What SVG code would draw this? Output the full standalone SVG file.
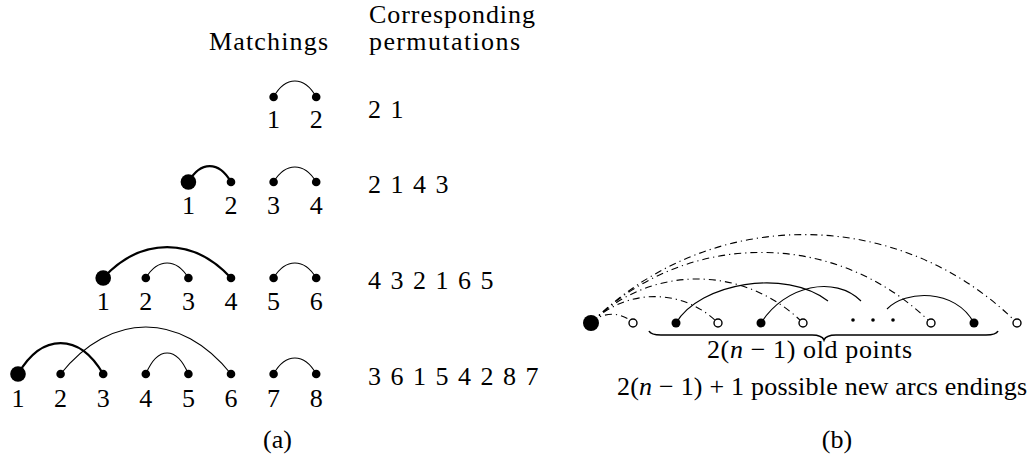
<svg xmlns="http://www.w3.org/2000/svg" width="1032" height="461" viewBox="0 0 1032 461">
<style>
.lbl{text-anchor:middle}
.perm{word-spacing:3px}
.dot{fill:#000}
.open{fill:#fff;stroke:#000;stroke-width:1.4}
.thin{fill:none;stroke:#000;stroke-width:1.1}
.thick{fill:none;stroke:#000;stroke-width:2.2}
.dd{fill:none;stroke:#000;stroke-width:1.1;stroke-dasharray:7 4 1.2 4}
</style>
<rect width="1032" height="461" fill="#fff"/>
<g style="font-family:'Liberation Serif','Times New Roman',serif;font-size:26px" fill="#000">

<g id="headers">
<text x="328" y="50" text-anchor="end" textLength="119">Matchings</text>
<text x="369" y="23" textLength="166">Corresponding</text>
<text x="369" y="50" textLength="151">permutations</text>
</g>

<g id="connectors">
<path class="thin" d="M273.6,97 C285.6,75.7 304.2,75.7 316.2,97"/>
<path class="thick" d="M188.4,182 C200.4,160.7 219,160.7 231,182"/>
<path class="thin" d="M273.6,182 C285.6,162 304.2,162 316.2,182"/>
<path class="thick" d="M103.2,278 C141.2,236.7 193,236.7 231,278"/>
<path class="thin" d="M145.8,278 C157.8,258 176.4,258 188.4,278"/>
<path class="thin" d="M273.6,278 C285.6,258 304.2,258 316.2,278"/>
<path class="thick" d="M18,374 C42,332.7 79.2,332.7 103.2,374"/>
<path class="thin" d="M60.6,374 C110.6,311.3 181,311.3 231,374"/>
<path class="thin" d="M145.8,374 C157.8,346 176.4,346 188.4,374"/>
<path class="thin" d="M273.6,374 C285.6,352.7 304.2,352.7 316.2,374"/>
<path class="dd" d="M591,323 C602.6,311.4 621.4,311.4 633,323"/>
<path class="dd" d="M591,323 C626.2,287.8 682.8,287.8 718,323"/>
<path class="dd" d="M591,323 C649.7,264.3 744.3,264.3 803,323"/>
<path class="dd" d="M591,323 C685.1,228.9 836.9,228.9 931,323"/>
<path class="dd" d="M591,323 C708.9,205.1 899.1,205.1 1017,323"/>
<path class="thin" d="M676,323 C700,283 785,268 828,301"/>
<path class="thin" d="M761,323 C785,285 835,275 861,301"/>
<path class="thin" d="M887,309 C905,290 955,288 974,323"/>
</g>

<g id="row1">
<circle class="dot" cx="273.6" cy="97" r="4.3"/><circle class="dot" cx="316.2" cy="97" r="4.3"/>
<text class="lbl" x="273.6" y="128">1</text><text class="lbl" x="316.2" y="128">2</text>
<text class="perm" x="368" y="118">2 1</text>
</g>

<g id="row2">
<circle class="dot" cx="188.4" cy="182" r="7.8"/><circle class="dot" cx="231" cy="182" r="4.3"/>
<circle class="dot" cx="273.6" cy="182" r="4.3"/><circle class="dot" cx="316.2" cy="182" r="4.3"/>
<text class="lbl" x="188.4" y="214">1</text><text class="lbl" x="231" y="214">2</text>
<text class="lbl" x="273.6" y="214">3</text><text class="lbl" x="316.2" y="214">4</text>
<text class="perm" x="368" y="193">2 1 4 3</text>
</g>

<g id="row3">
<circle class="dot" cx="103.2" cy="278" r="7.8"/><circle class="dot" cx="145.8" cy="278" r="4.3"/>
<circle class="dot" cx="188.4" cy="278" r="4.3"/><circle class="dot" cx="231" cy="278" r="4.3"/>
<circle class="dot" cx="273.6" cy="278" r="4.3"/><circle class="dot" cx="316.2" cy="278" r="4.3"/>
<text class="lbl" x="103.2" y="310">1</text><text class="lbl" x="145.8" y="310">2</text>
<text class="lbl" x="188.4" y="310">3</text><text class="lbl" x="231" y="310">4</text>
<text class="lbl" x="273.6" y="310">5</text><text class="lbl" x="316.2" y="310">6</text>
<text class="perm" x="368" y="289">4 3 2 1 6 5</text>
</g>

<g id="row4">
<circle class="dot" cx="18" cy="374" r="7.8"/><circle class="dot" cx="60.6" cy="374" r="4.3"/>
<circle class="dot" cx="103.2" cy="374" r="4.3"/><circle class="dot" cx="145.8" cy="374" r="4.3"/>
<circle class="dot" cx="188.4" cy="374" r="4.3"/><circle class="dot" cx="231" cy="374" r="4.3"/>
<circle class="dot" cx="273.6" cy="374" r="4.3"/><circle class="dot" cx="316.2" cy="374" r="4.3"/>
<text class="lbl" x="18" y="407">1</text><text class="lbl" x="60.6" y="407">2</text>
<text class="lbl" x="103.2" y="407">3</text><text class="lbl" x="145.8" y="407">4</text>
<text class="lbl" x="188.4" y="407">5</text><text class="lbl" x="231" y="407">6</text>
<text class="lbl" x="273.6" y="407">7</text><text class="lbl" x="316.2" y="407">8</text>
<text class="perm" x="368" y="385">3 6 1 5 4 2 8 7</text>
</g>

<g id="caption-a"><text class="lbl" x="277.5" y="448">(a)</text></g>

<g id="b-new-point"><circle class="dot" cx="591" cy="323" r="8"/></g>
<g id="b-open-points">
<circle class="open" cx="633" cy="323" r="4"/>
<circle class="open" cx="718" cy="323" r="4"/>
<circle class="open" cx="803" cy="323" r="4"/>
<circle class="open" cx="931" cy="323" r="4"/>
<circle class="open" cx="1017" cy="323" r="4"/>
</g>
<g id="b-old-points">
<circle class="dot" cx="676" cy="323" r="4.5"/>
<circle class="dot" cx="761" cy="323" r="4.5"/>
<circle class="dot" cx="974" cy="323" r="4.5"/>
<circle class="dot" cx="853" cy="320" r="1.8"/>
<circle class="dot" cx="873" cy="320" r="1.8"/>
<circle class="dot" cx="893" cy="320" r="1.8"/>
</g>
<g id="b-brace">
<path d="M649,331 Q651,335 661,335 H812 Q822,335 824,340 Q826,335 836,335 H986 Q996,335 998,331" fill="none" stroke="#000" stroke-width="1.6"/>
<text class="lbl" x="809.5" y="358" textLength="205">2(<tspan font-style="italic">n</tspan> − 1) old points</text>
<text class="lbl" x="822" y="395" textLength="410">2(<tspan font-style="italic">n</tspan> − 1) + 1 possible new arcs endings</text>
</g>
<g id="caption-b"><text class="lbl" x="837" y="448">(b)</text></g>
</g>
</svg>
